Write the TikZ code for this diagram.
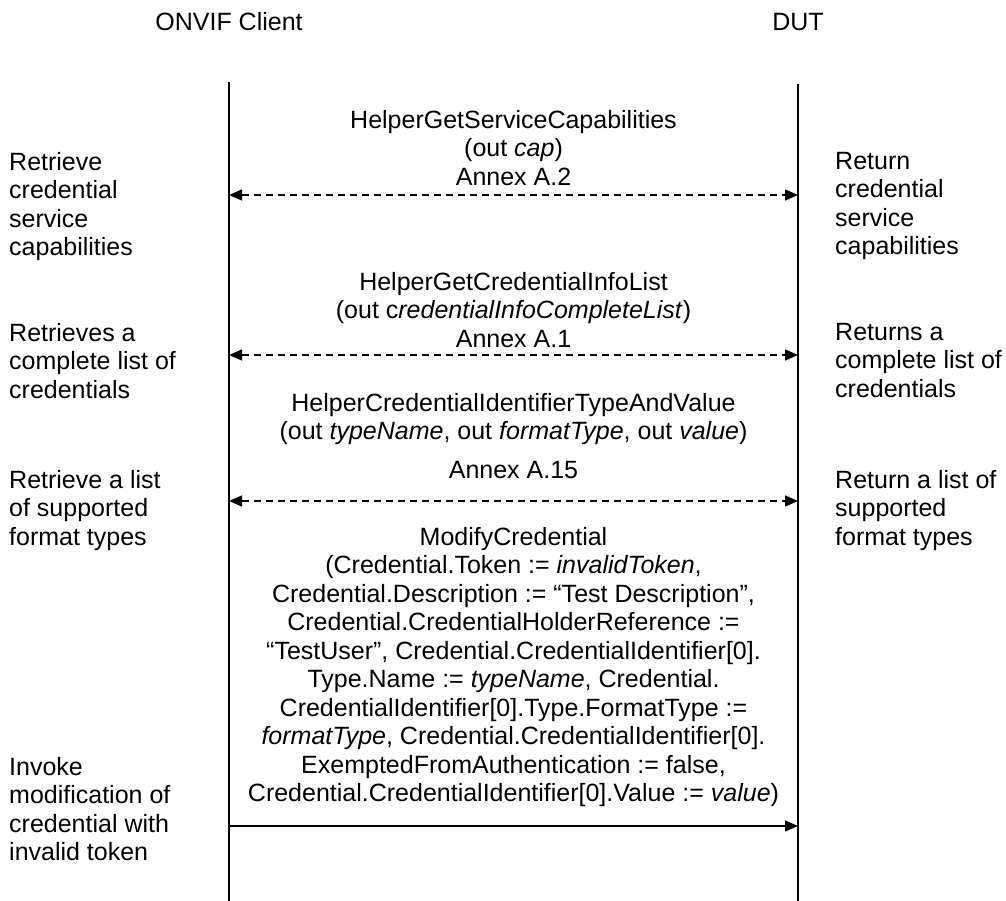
\documentclass[tikz,border=0pt]{standalone}
\usepackage{fontspec}
\setmainfont{Liberation Sans}
\usetikzlibrary{arrows.meta}
\begin{document}
\begin{tikzpicture}[x=1pt,y=-1pt,
  hdr/.style={font=\fontsize{25}{28.5}\selectfont, inner sep=0pt},
  lbl/.style={font=\fontsize{25}{28.5}\selectfont, inner sep=0pt, align=left, anchor=north west},
  msg/.style={font=\fontsize{25}{28.5}\selectfont, inner sep=0pt, align=center, anchor=north},
  life/.style={line width=1.5pt},
  call/.style={line width=1.3pt, -{Triangle[length=13pt,width=11pt]}},
  helper/.style={line width=1.3pt, dash pattern=on 7pt off 5pt, {Triangle[length=13pt,width=11pt]}-{Triangle[length=13pt,width=11pt]}},
]
\useasboundingbox (0,0) rectangle (1006,901);

% headers
\node[hdr] (client) at (229,22) {ONVIF Client};
\node[hdr] (dut) at (798,22) {DUT};

% lifelines
\coordinate (lt) at (229,82);
\coordinate (lb) at (229,901);
\coordinate (rt) at (798,84);
\coordinate (rb) at (798,901);
\draw[life] (lt) -- (lb);
\draw[life] (rt) -- (rb);

% arrow end points
\coordinate (a1l) at (229,195); \coordinate (a1r) at (798,195);
\coordinate (a2l) at (229,355); \coordinate (a2r) at (798,355);
\coordinate (a3l) at (229,501); \coordinate (a3r) at (798,501);
\coordinate (a4l) at (229,826); \coordinate (a4r) at (798,826);

\draw[helper] (a1l) -- (a1r);
\draw[helper] (a2l) -- (a2r);
\draw[helper] (a3l) -- (a3r);
\draw[call] (a4l) -- (a4r);

% message texts
\node[msg] (m1) at (513.5,110) {HelperGetServiceCapabilities\\(out \textit{cap})\\Annex A.2};
\node[msg] (m2) at (513.5,272) {HelperGetCredentialInfoList\\(out c\textit{redentialInfoCompleteList})\\Annex A.1};
\node[msg] (m3) at (513.5,393) {HelperCredentialIdentifierTypeAndValue\\(out \textit{typeName}, out \textit{formatType}, out \textit{value})\\[10.5pt]Annex A.15};
\node[msg] (m4) at (513.5,527) {ModifyCredential\\(Credential.Token := \textit{invalidToken},\\Credential.Description := “Test Description”,\\Credential.CredentialHolderReference :=\\“TestUser”, Credential.CredentialIdentifier[0].\\Type.Name := \textit{typeName}, Credential.\\CredentialIdentifier[0].Type.FormatType :=\\\textit{formatType}, Credential.CredentialIdentifier[0].\\ExemptedFromAuthentication := false,\\Credential.CredentialIdentifier[0].Value := \textit{value})};

% left labels
\node[lbl] (l1) at (9,152) {Retrieve\\credential\\service\\capabilities};
\node[lbl] (l2) at (9,323) {Retrieves a\\complete list of\\credentials};
\node[lbl] (l3) at (9,470) {Retrieve a list\\of supported\\format types};
\node[lbl] (l4) at (9,757) {Invoke\\modification of\\credential with\\invalid token};

% right labels
\node[lbl] (r1) at (835,152) {Return\\credential\\service\\capabilities};
\node[lbl] (r2) at (835,323) {Returns a\\complete list of\\credentials};
\node[lbl] (r3) at (835,470) {Return a list of\\supported\\format types};
\end{tikzpicture}
\end{document}
